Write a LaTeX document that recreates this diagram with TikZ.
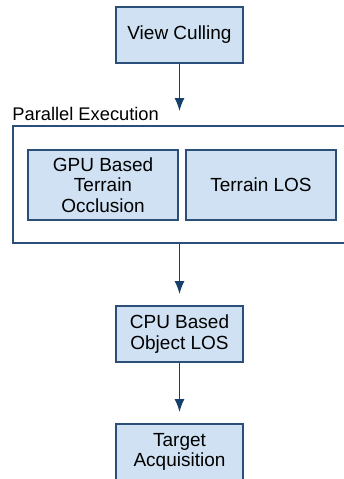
\documentclass[tikz,border=0pt]{standalone}
\usepackage{fontspec}
\setmainfont{Liberation Sans}
\usepackage{xcolor}
\usetikzlibrary{positioning}
\usetikzlibrary{arrows.meta}
\definecolor{boxfill}{HTML}{CFE1F2}
\definecolor{boxline}{HTML}{2B4F78}
\definecolor{arrowcol}{HTML}{173F6B}
\tikzset{edge/.style = {-{Latex[length=13pt,width=10pt]}, draw=arrowcol, line width=1.8pt, shorten >=11pt}}

\begin{document}
\begin{tikzpicture}[x=1pt,y=-1pt,thick,
    main node/.style={rectangle,draw=boxline,fill=boxfill,line width=1.7pt,align=center,inner sep=2pt,
      font=\fontsize{19}{20.5}\selectfont},
    frame node/.style={rectangle,draw=boxline,line width=1.7pt,inner sep=0pt}]
                \useasboundingbox (0,0) rectangle (344,479);
                \clip (0,0) rectangle (344,479);

                \node[main node,minimum width=127pt,minimum height=56pt] (view) at (179.5,35) {View Culling};
                \node[frame node,minimum width=357pt,minimum height=117pt] (par) at (191.5,184.5) {};
                \node[anchor=base west,inner sep=0pt,font=\fontsize{18.3}{20}\selectfont] (parlabel) at (12,120) {Parallel Execution};
                \node[main node,minimum width=150pt,minimum height=70pt] (gpu) at (103,185) {GPU Based\\Terrain\\Occlusion};
                \node[main node,minimum width=150pt,minimum height=70pt] (tlos) at (261,185) {Terrain LOS};
                \node[main node,minimum width=127pt,minimum height=56pt] (cpu) at (179.5,334) {CPU Based\\Object LOS};
                \node[main node,minimum width=127pt,minimum height=56pt] (target) at (179.5,452) {Target\\Acquisition};

                \path
                    (view) edge[edge, shorten >=14pt] (view |- par.north)
                    (par.south -| cpu) edge[edge] (cpu)
                    (cpu) edge[edge] (target)
                    ;
            \end{tikzpicture}
\end{document}
